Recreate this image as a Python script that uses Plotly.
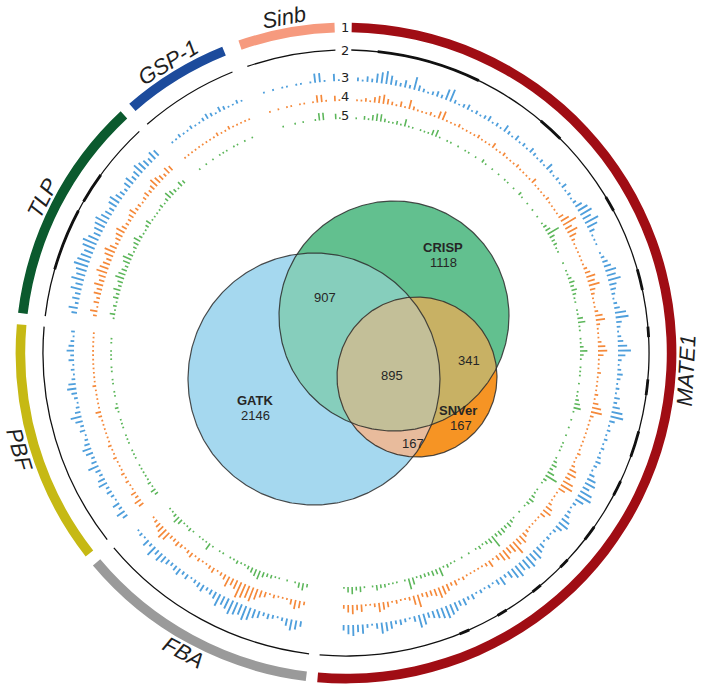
import numpy as np
import plotly.graph_objects as go

W, H = 709, 690
CX, CY = 346, 353          # centre of the circos plot (px)
R_MAX = 335                # radial axis range (1 unit = 1 px)

# ---------------- ideograms (segments) ----------------
SEG_NAMES = ["MATE1", "FBA", "PBF", "TLP", "GSP-1", "Sinb"]
SEG_START = [1, 187, 232, 277, 319, 341]
SEG_END = [185, 230, 275, 317, 338, 358]
SEG_COLORS = ["#a00d14", "#9a9a9a", "#c6b914", "#0b5a2e", "#1c4b9c", "#f69a7e"]
TRACK_FIRST_BIN = [2, 189, 233, 278, 320, 342]   # first 1-degree bin of each segment

# thicker pieces of the black track 2
RING2_THICK_START = [6, 40, 59, 74, 85, 95, 105, 115, 125, 133, 140, 148, 156, 286, 300]
RING2_THICK_END = [26, 45, 62, 78, 87, 98, 110, 118, 128, 135, 142, 150, 158, 298, 306]

# ---------------- tracks 3-5 (levels per 1-degree bin) ----------------
BLUE_MATE1 = [2,1,3,2,5,6,7,5,3,2,4,2,7,3,2,1,2,3,2,
              6,7,2,1,2,3,1,2,1,2,
              3,1,2,1,4,2,1,3,1,2,
              1,3,2,1,2,1,4,2,1,2,1,3,1,2,1,
              2,4,6,7,5,8,6,3,1,1,
              1,0,1,2,3,4,6,5,7,4,3,2,1,2,3,
              6,7,3,2,1,2,3,5,7,4,2,1,2,3,2,
              1,2,1,3,2,4,6,7,3,1,2,1,2,1,2,
              1,2,3,2,1,3,5,6,4,7,8,5,2,1,2,
              3,5,6,4,2,1,2,1,3,4,6,5,7,6,5,
              7,6,4,2,5,3,1,2,1,2,1,3,2,4,3,5,6,7,6,5,
              4,3,6,7,3,1,2,3,2,4,5,6,3,1,2,5,4,6,5,3]
ORANGE_MATE1 = [1,1,2,1,3,4,5,3,2,1,3,1,5,2,1,1,1,2,1,
                4,5,1,1,1,2,1,1,1,1,
                2,1,1,1,3,1,1,2,1,1,
                1,2,1,1,1,1,3,1,1,1,1,2,1,1,1,
                1,3,5,8,4,6,4,2,1,1,
                1,1,1,1,2,3,5,4,6,3,2,1,1,1,2,
                4,5,2,1,1,1,2,4,5,3,1,1,1,2,1,
                1,1,1,2,1,3,5,6,2,1,1,1,1,1,1,
                1,1,2,1,1,2,4,5,3,6,7,4,1,1,1,
                2,4,5,3,1,1,1,1,2,3,5,4,8,5,4,
                6,5,3,1,4,2,1,1,1,1,1,2,1,3,2,4,5,6,4,3,
                3,2,7,5,2,1,1,2,1,3,4,5,2,1,1,4,3,5,4,2]
GREEN_MATE1 = [1,0,2,1,3,4,4,2,1,1,2,1,4,1,1,0,1,1,1,
               3,4,1,0,1,1,0,1,0,1,
               1,0,1,0,2,1,0,1,0,1,
               0,1,1,0,1,0,2,1,0,1,0,1,0,1,0,
               1,2,3,7,3,2,2,1,1,0,
               0,1,0,1,1,2,3,2,3,2,1,1,0,1,1,
               3,4,1,1,0,1,1,2,4,2,1,0,1,1,1,
               0,1,0,1,1,2,3,4,1,0,1,0,1,0,1,
               0,1,1,1,0,1,2,3,2,4,7,2,1,0,1,
               1,2,3,2,1,0,1,0,1,2,3,2,3,3,2,
               7,3,2,1,2,1,0,1,0,1,0,1,1,2,1,5,3,3,2,2,
               2,1,4,6,1,0,1,1,1,2,2,3,1,0,1,3,2,4,3,1]

BLUE_FBA = [3,5,6,4,2,1,2,3,2,4,5,7,8,6,7,8,6,5,7,4,3,2,4,3,2,1,3,2,4,3,2,3,4,5,3,6,2,4,1,2,1]
ORANGE_FBA = [2,4,5,3,1,1,1,2,1,3,4,6,8,7,8,9,5,4,6,3,2,1,3,2,1,1,2,1,3,2,1,2,3,2,2,5,6,4,3,2,1]
GREEN_FBA = [2,4,3,1,0,1,0,1,1,2,2,3,5,4,3,2,1,1,2,1,1,0,1,1,0,1,4,1,1,1,0,1,2,1,1,3,4,2,1,1,0]

BLUE_PBF = [3,5,2,4,1,2,3,2,5,4,2,3,6,3,2,4,5,3,2,1,3,2,4,6,3,2,1,2,3,5,4,2,1,2,1,3,2,4,3,2,1,2]
ORANGE_PBF = [3,4,2,3,1,1,2,1,2,1,1,1,2,1,1,2,1,1,1,1,1,1,2,3,1,1,1,1,1,2,1,1,1,1,1,1,1,1,1,1,1,1]
GREEN_PBF = [2,3,1,2,1,1,1,1,1,0,1,1,1,0,1,1,1,0,1,1,1,0,1,2,1,0,1,1,0,1,1,0,1,1,0,1,1,1,0,1,1,0]

BLUE_TLP = [3,5,2,4,3,6,4,7,5,6,8,7,6,5,7,8,6,4,5,6,7,5,4,3,5,6,4,3,2,4,5,3,4,6,5,4,3,5,4]
ORANGE_TLP = [2,4,1,3,2,4,3,5,3,4,6,5,4,3,5,6,4,2,3,4,5,3,2,2,3,4,2,2,1,2,3,2,3,5,4,3,2,4,3]
GREEN_TLP = [1,3,1,2,1,3,2,4,2,3,5,4,3,2,4,5,3,1,2,3,4,2,1,1,2,3,1,1,1,1,2,1,2,4,3,2,1,3,2]

BLUE_GSP1 = [1,1,2,1,1,2,1,1,2,3,2,1,3,2,1,1,2,1]
ORANGE_GSP1 = [1,1,1,1,1,1,1,1,1,2,1,1,2,1,1,1,1,1]
GREEN_GSP1 = [0,1,0,1,0,1,0,1,1,1,0,1,1,0,1,0,1,0]

BLUE_SINB = [1,0,1,0,1,1,0,1,1,0,1,5,5,1,0,4,1]
ORANGE_SINB = [1,0,1,0,1,1,0,1,1,0,1,4,4,1,0,3,1]
GREEN_SINB = [0,0,1,0,0,1,0,1,0,0,1,4,4,0,0,3,1]

TRACK_LABELS = ["1", "2", "3", "4", "5"]

# ---------------- Venn diagram ----------------
VENN_SETS = ["GATK", "CRISP", "SNVer"]
VENN_ONLY = [2146, 1118, 167]
VENN_GC, VENN_GS, VENN_CS = 907, 167, 341
VENN_ALL = 895

# ---------------- styling / layout constants ----------------
TRACK_COLORS = ["#4f9fdc", "#f5893a", "#5cb65a"]
TRACK_BASE = [272, 252, 234]
LEVEL_PX = 1.85
BAR_W = 0.38
RING1_BASE, RING1_W = 320.8, 9.6
RING2_BASE = 302.4
LABEL_R = 341
TRACK_LABEL_R = [326, 303, 276, 257, 238]

VENN_GEOM = {  # centre x, centre y, radius (px)
    "GATK": (314, 379, 126),
    "CRISP": (394, 316, 115),
    "SNVer": (417, 377, 80),
}
C_G, C_C, C_S = "#a5d8ef", "#62c08f", "#f69424"
C_GC, C_GS, C_CS, C_ALL = "#86cebc", "#e8bb9c", "#c8b164", "#c3bf98"


def polar_xy(theta_deg, r):
    t = np.radians(theta_deg)
    return CX + r * np.sin(t), CY - r * np.cos(t)


fig = go.Figure()

# ---- ring 1 : coloured ideograms ----
fig.add_trace(go.Barpolar(
    theta=[(s + e) / 2 for s, e in zip(SEG_START, SEG_END)],
    r=[RING1_W] * len(SEG_NAMES),
    base=[RING1_BASE] * len(SEG_NAMES),
    width=[e - s for s, e in zip(SEG_START, SEG_END)],
    marker=dict(color=SEG_COLORS, line=dict(width=0)),
    hoverinfo="skip", showlegend=False))

# ---- ring 2 : black line ----
fig.add_trace(go.Barpolar(
    theta=[(s + e) / 2 for s, e in zip(SEG_START, SEG_END)],
    r=[1.3] * len(SEG_NAMES),
    base=[RING2_BASE] * len(SEG_NAMES),
    width=[e - s for s, e in zip(SEG_START, SEG_END)],
    marker=dict(color="#111111", line=dict(width=0)),
    hoverinfo="skip", showlegend=False))
fig.add_trace(go.Barpolar(
    theta=[(s + e) / 2 for s, e in zip(RING2_THICK_START, RING2_THICK_END)],
    r=[2.8] * len(RING2_THICK_START),
    base=[RING2_BASE - 0.75] * len(RING2_THICK_START),
    width=[e - s for s, e in zip(RING2_THICK_START, RING2_THICK_END)],
    marker=dict(color="#111111", line=dict(width=0)),
    hoverinfo="skip", showlegend=False))

# ---- tracks 3-5 ----
TRACKS = [
    [BLUE_MATE1, BLUE_FBA, BLUE_PBF, BLUE_TLP, BLUE_GSP1, BLUE_SINB],
    [ORANGE_MATE1, ORANGE_FBA, ORANGE_PBF, ORANGE_TLP, ORANGE_GSP1, ORANGE_SINB],
    [GREEN_MATE1, GREEN_FBA, GREEN_PBF, GREEN_TLP, GREEN_GSP1, GREEN_SINB],
]
for levels_by_seg, base, color in zip(TRACKS, TRACK_BASE, TRACK_COLORS):
    th, rr = [], []
    for first, levels in zip(TRACK_FIRST_BIN, levels_by_seg):
        for i, lv in enumerate(levels):
            if lv > 0:
                th.append(first + i + 0.5)
                rr.append(lv * LEVEL_PX)
    fig.add_trace(go.Barpolar(
        theta=th, r=rr, base=[base] * len(th), width=BAR_W,
        marker=dict(color=color, line=dict(width=0)),
        hoverinfo="skip", showlegend=False))

# ---- Venn diagram (cartesian, px coordinates) ----
def circle_pts(name, n=400):
    cx, cy, r = VENN_GEOM[name]
    t = np.linspace(0, 2 * np.pi, n)
    return cx + r * np.cos(t), cy + r * np.sin(t)


def intersection_pts(names, n=1500):
    xs, ys = [], []
    for nm in names:
        x, y = circle_pts(nm, n)
        keep = np.ones_like(x, dtype=bool)
        for other in names:
            if other == nm:
                continue
            ox, oy, orad = VENN_GEOM[other]
            keep &= (x - ox) ** 2 + (y - oy) ** 2 <= orad ** 2 + 1e-6
        xs.append(x[keep]); ys.append(y[keep])
    x = np.concatenate(xs); y = np.concatenate(ys)
    mx, my = x.mean(), y.mean()
    order = np.argsort(np.arctan2(y - my, x - mx))
    x, y = x[order], y[order]
    return np.append(x, x[0]), np.append(y, y[0])


def add_fill(x, y, color):
    fig.add_trace(go.Scatter(x=x, y=y, mode="lines", fill="toself",
                             fillcolor=color, line=dict(width=0),
                             hoverinfo="skip", showlegend=False))


add_fill(*circle_pts("GATK"), C_G)
add_fill(*circle_pts("CRISP"), C_C)
add_fill(*intersection_pts(["GATK", "CRISP"]), C_GC)
add_fill(*circle_pts("SNVer"), C_S)
add_fill(*intersection_pts(["GATK", "SNVer"]), C_GS)
add_fill(*intersection_pts(["CRISP", "SNVer"]), C_CS)
add_fill(*intersection_pts(["GATK", "CRISP", "SNVer"]), C_ALL)
for nm in VENN_SETS:
    x, y = circle_pts(nm)
    fig.add_trace(go.Scatter(x=x, y=y, mode="lines",
                             line=dict(color="rgba(45,45,45,0.85)", width=1.2),
                             hoverinfo="skip", showlegend=False))

annotations = []
VFONT = "Liberation Sans, Arial, sans-serif"


def vtext(x, y, txt, bold=False):
    annotations.append(dict(x=x, y=y, xref="x", yref="y", text=f"<b>{txt}</b>" if bold else txt,
                            showarrow=False, font=dict(family=VFONT, size=13, color="#262626")))


vtext(255, 400, VENN_SETS[0], True); vtext(255, 415, str(VENN_ONLY[0]))
vtext(443, 247, VENN_SETS[1], True); vtext(443, 262, str(VENN_ONLY[1]))
vtext(458, 410, VENN_SETS[2], True); vtext(461, 425, str(VENN_ONLY[2]))
vtext(325, 297, str(VENN_GC))
vtext(392, 375, str(VENN_ALL))
vtext(413, 443, str(VENN_GS))
vtext(469, 360, str(VENN_CS))

# ---- segment labels ----
for name, s, e in zip(SEG_NAMES, SEG_START, SEG_END):
    mid = (s + e) / 2
    x, y = polar_xy(mid, LABEL_R)
    a = ((mid + 180) % 360) - 180
    ang = a if -90 <= a <= 90 else (a - 180 if a > 0 else a + 180)
    annotations.append(dict(x=x, y=y, xref="x", yref="y", text=f"<i>{name}</i>", textangle=ang,
                            showarrow=False,
                            font=dict(family="Liberation Sans, Arial, sans-serif", size=22,
                                      color="#1e1e1e")))

# ---- track numbers ----
for lab, r in zip(TRACK_LABELS, TRACK_LABEL_R):
    x, y = polar_xy(0, r)
    annotations.append(dict(x=x - 1, y=y, xref="x", yref="y", text=lab, showarrow=False,
                            font=dict(family="DejaVu Sans, sans-serif", size=13, color="#222222")))

fig.update_layout(
    width=W, height=H, margin=dict(l=0, r=0, t=0, b=0),
    paper_bgcolor="white", plot_bgcolor="rgba(0,0,0,0)",
    xaxis=dict(range=[0, W], visible=False, fixedrange=True),
    yaxis=dict(range=[H, 0], visible=False, fixedrange=True),
    polar=dict(
        domain=dict(x=[(CX - R_MAX) / W, (CX + R_MAX) / W],
                    y=[(H - CY - R_MAX) / H, (H - CY + R_MAX) / H]),
        bgcolor="rgba(0,0,0,0)",
        radialaxis=dict(range=[0, R_MAX], visible=False, showgrid=False),
        angularaxis=dict(rotation=90, direction="clockwise", visible=False, showgrid=False),
    ),
    annotations=annotations,
    showlegend=False,
)

fig.write_html("out.html", config={"displayModeBar": False},
               post_script="document.body.style.margin='0';")
